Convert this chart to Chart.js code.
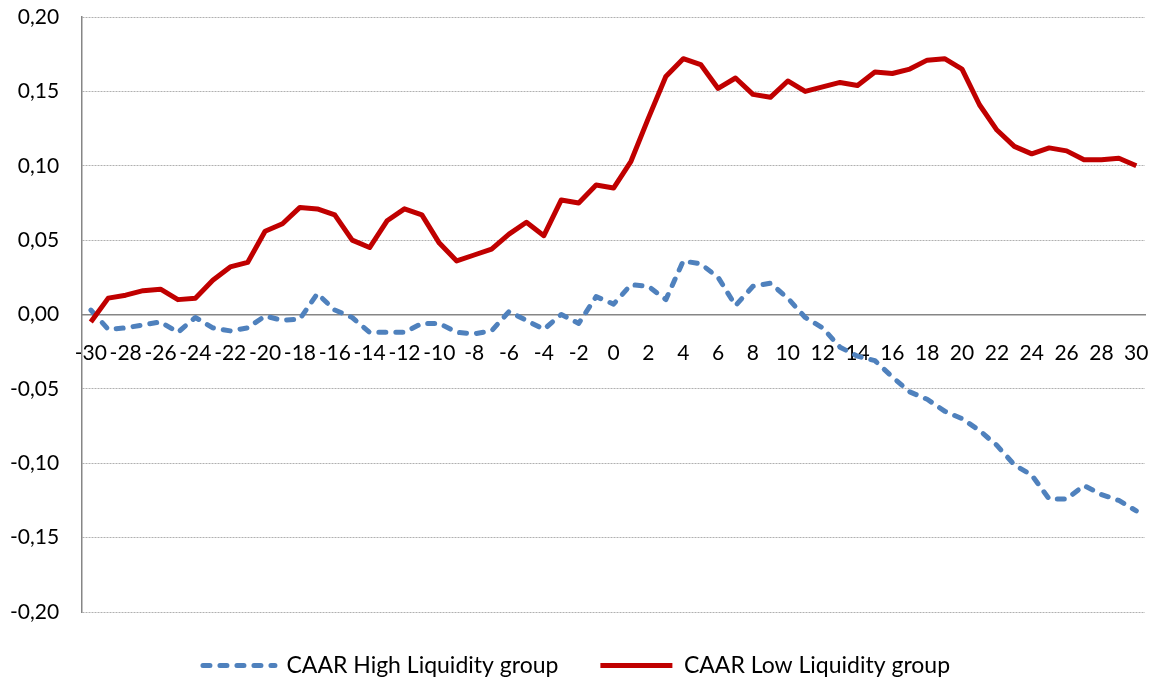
<!DOCTYPE html>
<html>
	<head>
		<meta charset="UTF-8">
		<title>CAAR</title>
		<script src="https://cdn.jsdelivr.net/npm/chart.js"></script>
		<style>
		   *{padding: 0; margin: 0;}
		   body{background: #fff;}
		   div{width: 1159px; height: 679px;}
		</style>
	</head>
	<body>
	<div>
	   <canvas id="myChart" width="1159" height="679"></canvas>
	</div>
	<script>
	// event days
	const days = [-30,-29,-28,-27,-26,-25,-24,-23,-22,-21,-20,-19,-18,-17,-16,-15,-14,-13,-12,-11,
	              -10,-9,-8,-7,-6,-5,-4,-3,-2,-1,0,1,2,3,4,5,6,7,8,9,10,
	              11,12,13,14,15,16,17,18,19,20,21,22,23,24,25,26,27,28,29,30];

	// CAAR high liquidity group (blue dashed)
	const highLiq = [0.003,-0.010,-0.009,-0.007,-0.005,-0.012,-0.002,-0.009,-0.011,-0.009,
	                 -0.001,-0.004,-0.003,0.014,0.003,-0.002,-0.012,-0.012,-0.012,-0.006,
	                 -0.006,-0.012,-0.013,-0.011,0.002,-0.004,-0.010,0.000,-0.006,0.012,
	                 0.007,0.020,0.019,0.010,0.036,0.034,0.025,0.006,0.019,0.021,
	                 0.011,-0.002,-0.009,-0.022,-0.028,-0.031,-0.042,-0.052,-0.057,-0.065,
	                 -0.070,-0.078,-0.088,-0.101,-0.108,-0.124,-0.124,-0.115,-0.121,-0.125,
	                 -0.132];

	// CAAR low liquidity group (red solid)
	const lowLiq = [-0.005,0.011,0.013,0.016,0.017,0.010,0.011,0.023,0.032,0.035,
	                0.056,0.061,0.072,0.071,0.067,0.050,0.045,0.063,0.071,0.067,
	                0.048,0.036,0.040,0.044,0.054,0.062,0.053,0.077,0.075,0.087,
	                0.085,0.103,0.132,0.160,0.172,0.168,0.152,0.159,0.148,0.146,
	                0.157,0.150,0.153,0.156,0.154,0.163,0.162,0.165,0.171,0.172,
	                0.165,0.141,0.124,0.113,0.108,0.112,0.110,0.104,0.104,0.105,
	                0.100];

	const seriesNames = ["CAAR High Liquidity group", "CAAR Low Liquidity group"];

	Chart.defaults.font.family = "Lato, 'Open Sans', sans-serif";
	Chart.defaults.font.size = 21;
	Chart.defaults.color = '#000';

	const ctx = document.getElementById('myChart');
	new Chart(ctx, {
	  type: 'line',
	  data: {
	    labels: days,
	    datasets: [{
	      label: seriesNames[0],
	      data: highLiq,
	      borderColor: '#4F81BD',
	      backgroundColor: '#4F81BD',
	      borderWidth: 5,
	      borderDash: [7, 10],
	      borderCapStyle: 'round',
	      borderJoinStyle: 'round',
	      pointRadius: 0,
	      tension: 0,
	      order: 1
	    }, {
	      label: seriesNames[1],
	      data: lowLiq,
	      borderColor: '#C00000',
	      backgroundColor: '#C00000',
	      borderWidth: 5,
	      borderJoinStyle: 'round',
	      pointRadius: 0,
	      tension: 0,
	      order: 0
	    }]
	  },
	  options: {
	    responsive: false,
	    animation: false,
	    layout: {padding: {left: 8, right: 14, top: 17, bottom: -8}},
	    plugins: {
	      tooltip: {enabled: false},
	      legend: {
	        position: 'bottom',
	        labels: {
	          usePointStyle: true,
	          pointStyle: 'line',
	          pointStyleWidth: 72,
	          padding: 42,
	          color: '#000',
	          font: {size: 23},
	          sort: (a, b) => a.datasetIndex - b.datasetIndex,
	          generateLabels: function(chart) {
	            const items = Chart.defaults.plugins.legend.labels.generateLabels(chart);
	            items.forEach(function(it) {
	              const ds = chart.data.datasets[it.datasetIndex];
	              it.lineDash = ds.borderDash || [];
	              it.lineCap = ds.borderCapStyle || 'butt';
	              it.strokeStyle = ds.borderColor;
	              it.fillStyle = ds.borderColor;
	              it.lineWidth = ds.borderWidth;
	              it.pointStyle = 'line';
	            });
	            return items;
	          }
	        }
	      }
	    },
	    scales: {
	      x: {
	        position: {y: 0},
	        offset: true,
	        grid: {display: false, drawTicks: true, tickLength: 26},
	        border: {display: true, color: '#868686', width: 1.5},
	        ticks: {
	          autoSkip: false,
	          maxRotation: 0,
	          padding: 0,
	          callback: function(v, i) {
	            const d = days[i];
	            return d % 2 === 0 ? String(d) : '';
	          }
	        }
	      },
	      y: {
	        min: -0.2,
	        max: 0.2,
	        grid: {
	          color: (c) => c.tick && Math.abs(c.tick.value) < 1e-9 ? 'rgba(0,0,0,0)' : '#b0b0b0',
	          tickColor: 'rgba(0,0,0,0)',
	          drawTicks: true,
	          tickLength: 21,
	          lineWidth: 1
	        },
	        border: {display: true, color: '#868686', width: 1.5, dash: [2, 1]},
	        ticks: {
	          stepSize: 0.05,
	          padding: 2,
	          callback: (v) => v.toFixed(2).replace('.', ',')
	        }
	      }
	    }
	  }
	});
	</script>
	</body>
</html>
